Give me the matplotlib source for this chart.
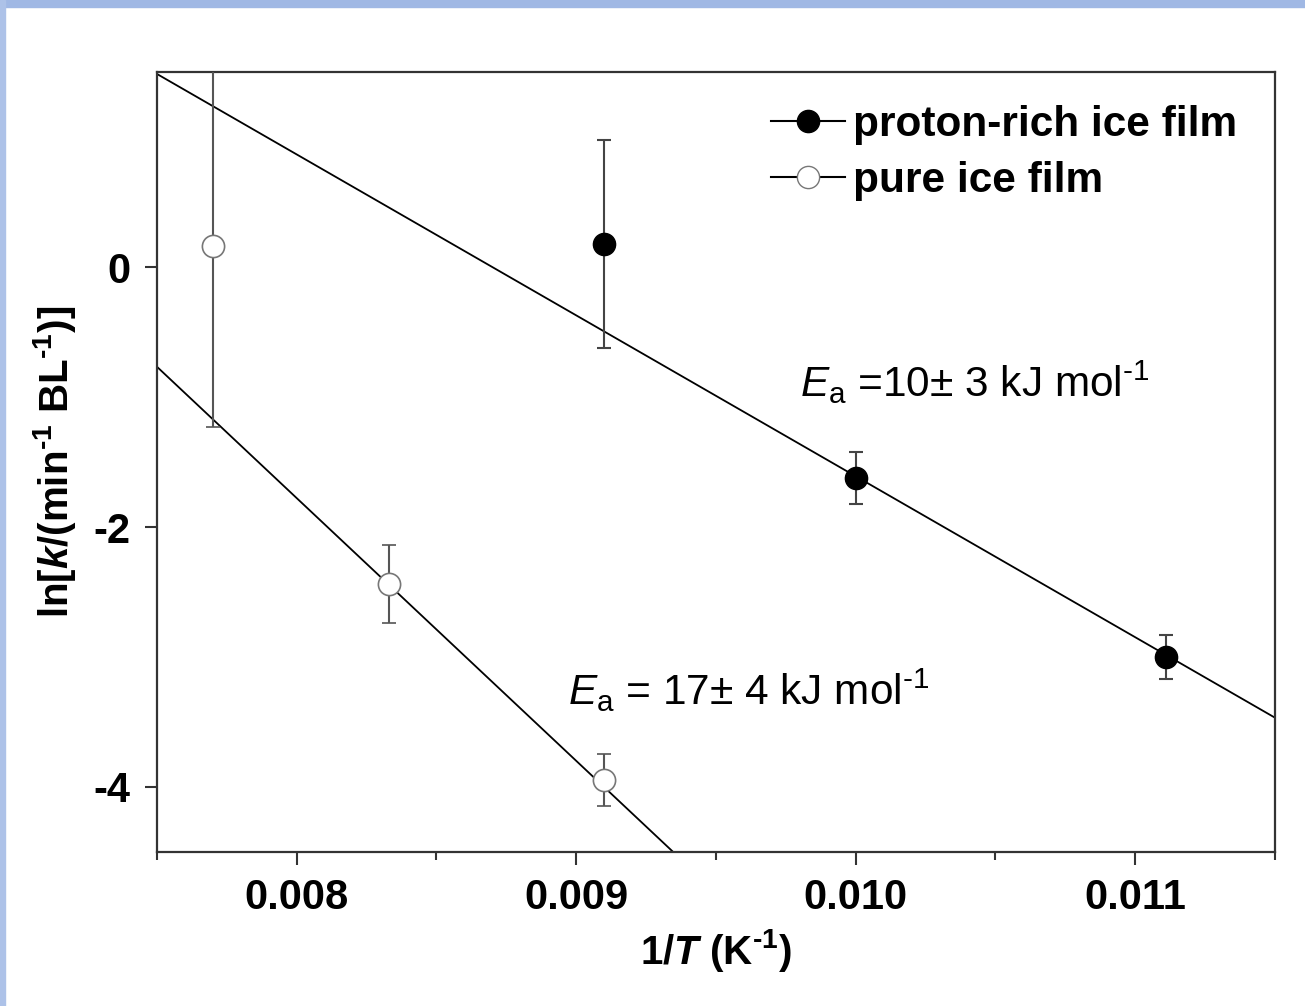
import matplotlib
matplotlib.use("Agg")
import matplotlib.pyplot as plt
import numpy as np
from matplotlib.lines import Line2D
from matplotlib.patches import Rectangle

plt.rcParams['font.family'] = ['Liberation Sans', 'DejaVu Sans']
plt.rcParams['mathtext.fontset'] = 'custom'
plt.rcParams['mathtext.rm'] = 'Liberation Sans'
plt.rcParams['mathtext.it'] = 'Liberation Sans:italic'
plt.rcParams['mathtext.bf'] = 'Liberation Sans:bold'
plt.rcParams['mathtext.bfit'] = 'Liberation Sans:italic:bold'
plt.rcParams['axes.unicode_minus'] = False

# data: 1/T (K^-1), ln k, error
rich_x = [0.00910, 0.01000, 0.01111]
rich_y = [0.18, -1.62, -3.00]
rich_err = [0.80, 0.20, 0.17]

pure_x = [0.00770, 0.00833, 0.00910]
pure_y = [0.16, -2.44, -3.95]
pure_err = [1.39, 0.30, 0.20]

# Arrhenius fits: ln k = intercept + slope * (1/T)
rich_fit = (-1238.0, 10.77)
pure_fit = (-2021.0, 14.39)

xlim = (0.0075, 0.0115)
ylim = (-4.5, 1.5)
xticks = [0.008, 0.009, 0.010, 0.011]
yticks = [-4, -2, 0]

HY = '\u2010'  # plain hyphen for superscripts (mathtext turns '-' into a minus)

fig = plt.figure(figsize=(13.05, 10.06), dpi=100)
ax = fig.add_axes([0.1203, 0.1531, 0.8567, 0.7753])

fit_x = np.array(xlim)
ax.plot(fit_x, rich_fit[1] + rich_fit[0] * fit_x, color='black', lw=1.3, zorder=2)
ax.plot(fit_x, pure_fit[1] + pure_fit[0] * fit_x, color='black', lw=1.3, zorder=2)

ax.errorbar(rich_x, rich_y, yerr=rich_err, fmt='o', ms=16, mfc='black', mec='black',
            ecolor='#444444', elinewidth=1.5, capsize=5, capthick=1.5, zorder=3)
ax.errorbar(pure_x, pure_y, yerr=pure_err, fmt='o', ms=16, mfc='white', mec='#777777',
            mew=1.2, ecolor='#555555', elinewidth=1.5, capsize=5, capthick=1.5, zorder=3)

ax.set_xlim(*xlim)
ax.set_ylim(*ylim)
ax.set_xticks(xticks)
ax.set_xticklabels(['%.3f' % v for v in xticks])
ax.set_xticks(np.arange(0.0075, 0.01151, 0.0005), minor=True)
ax.set_yticks(yticks)
ax.tick_params(which='both', direction='out', width=1.5, color='#333333')
ax.tick_params(which='major', length=9, labelsize=30, pad=10)
ax.tick_params(which='minor', length=6)
for lab in ax.get_xticklabels() + ax.get_yticklabels():
    lab.set_fontweight('bold')
for s in ax.spines.values():
    s.set_linewidth(1.6)
    s.set_color('#333333')

ax.set_xlabel(r'1/$\mathbfit{T}$ (K$^{\mathbf{%s1}}$)' % HY, fontsize=29, fontweight='bold', labelpad=6)
ax.set_ylabel(r'ln[$\mathbfit{k}$/(min$^{\mathbf{%s1}}$ BL$^{\mathbf{%s1}}$)]' % (HY, HY), fontsize=29,
              fontweight='bold', labelpad=11)

ax.text(0.00980, -1.0, r'$\mathit{E}_{\mathrm{a}}$ =10$\pm$ 3 kJ mol$^{\mathrm{%s1}}$' % HY, fontsize=30.5)
ax.text(0.00897, -3.37, r'$\mathit{E}_{\mathrm{a}}$ = 17$\pm$ 4 kJ mol$^{\mathrm{%s1}}$' % HY, fontsize=30.5)

handles = [
    Line2D([], [], color='black', lw=1.5, marker='o', ms=16, mfc='black', mec='black'),
    Line2D([], [], color='black', lw=1.5, marker='o', ms=16, mfc='white', mec='#777777'),
]
ax.legend(handles, ['proton-rich ice film', 'pure ice film'], loc='upper right',
          frameon=False, prop={'size': 30.5, 'weight': 'bold'}, handlelength=1.75,
          handletextpad=0.2, labelspacing=0.38, borderaxespad=0.3, bbox_to_anchor=(0.993, 0.996))

# light blue frame on the top and left edges
fig.patches.append(Rectangle((0, 1 - 7 / 1006), 1, 7 / 1006, transform=fig.transFigure,
                             color='#a0b8e4', zorder=0))
fig.patches.append(Rectangle((0, 0), 5 / 1305, 1, transform=fig.transFigure,
                             color='#adc2e8', zorder=0))

fig.savefig('out.png', dpi=100)
